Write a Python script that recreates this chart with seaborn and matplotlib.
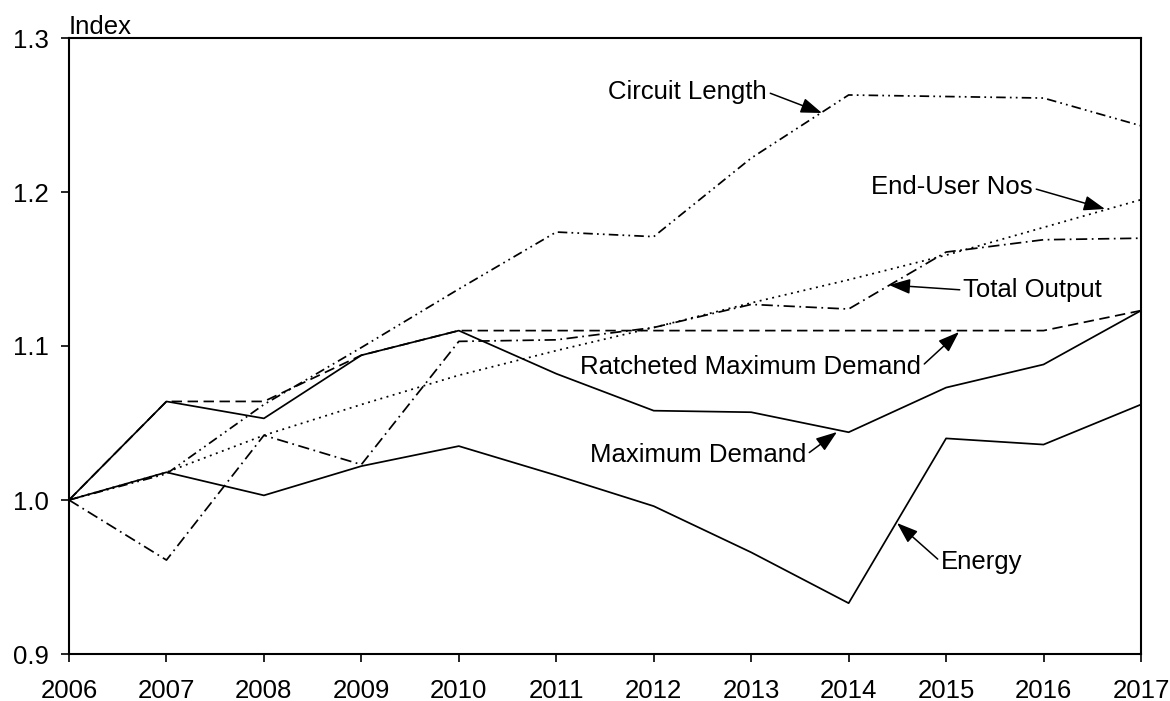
import matplotlib
matplotlib.use("Agg")
import matplotlib.pyplot as plt
import seaborn as sns
import numpy as np

# ---- data ----
years = [2006, 2007, 2008, 2009, 2010, 2011, 2012, 2013, 2014, 2015, 2016, 2017]
energy = [1.000, 1.018, 1.003, 1.022, 1.035, 1.016, 0.996, 0.966, 0.933, 1.040, 1.036, 1.062]
max_demand = [1.000, 1.064, 1.053, 1.094, 1.110, 1.082, 1.058, 1.057, 1.044, 1.073, 1.088, 1.123]
ratcheted = [1.000, 1.064, 1.064, 1.094, 1.110, 1.110, 1.110, 1.110, 1.110, 1.110, 1.110, 1.123]
circuit_length = [1.000, 1.017, 1.062, 1.099, 1.137, 1.174, 1.171, 1.222, 1.263, 1.262, 1.261, 1.243]
end_user = [1.000, 1.018, 1.042, 1.062, 1.081, 1.097, 1.112, 1.128, 1.143, 1.159, 1.177, 1.195]
total_output = [1.000, 0.961, 1.042, 1.023, 1.103, 1.104, 1.112, 1.127, 1.124, 1.161, 1.169, 1.170]
yticks = [0.9, 1.0, 1.1, 1.2, 1.3]
y_label = "Index"

sns.set_style("white")
plt.rcParams['font.family'] = ['Liberation Sans', 'DejaVu Sans']
plt.rcParams['text.color'] = 'black'
plt.rcParams['xtick.color'] = 'black'
plt.rcParams['ytick.color'] = 'black'
plt.rcParams['axes.labelcolor'] = 'black'
FS = 18.5

fig = plt.figure(figsize=(11.70, 7.01), dpi=100)
ax = fig.add_axes([69/1170, 1 - 654/701, (1141-69)/1170, (654-38)/701])

LW = 1.25
series = [
    (energy, '-'),
    (max_demand, '-'),
    (ratcheted, (0, (6, 3.2))),
    (circuit_length, (0, (5.5, 2.4, 1, 2.4, 1, 2.4))),
    (end_user, (0, (1.1, 2.6))),
    (total_output, (0, (6.5, 2.6, 1, 2.6))),
]
for vals, ls in series:
    sns.lineplot(x=years, y=vals, ax=ax, color='black', linewidth=LW,
                 linestyle=ls, legend=False, errorbar=None)

ax.set_xlim(2006, 2017)
ax.set_ylim(0.9, 1.3)
ax.set_xticks(years)
ax.set_xticklabels([str(y) for y in years])
ax.set_yticks(yticks)
ax.set_yticklabels([f"{v:.1f}" for v in yticks])
ax.set_xlabel("")
ax.set_ylabel("")

for s in ax.spines.values():
    s.set_visible(True)
    s.set_color('black')
    s.set_linewidth(1.5)

ax.tick_params(axis='both', which='major', direction='out', length=5.5,
               width=1.2, color='black', labelsize=FS, labelcolor='black',
               bottom=True, left=True)
ax.tick_params(axis='x', pad=12.5)
ax.tick_params(axis='y', pad=9)

ax.annotate(y_label, xy=(0, 1), xycoords='axes fraction', xytext=(0, 3),
            textcoords='offset points', ha='left', va='baseline', fontsize=FS,
            color='black')


def px2d(px, py):
    return (2006 + (px - 69) / ((1141 - 69) / 11.0), 1.3 - (py - 38) / 1540.0)


arrow = dict(arrowstyle='-|>,head_length=0.7,head_width=0.25', color='black',
             lw=1.1, shrinkA=0, shrinkB=0)

annots = [
    ("Circuit Length", (767, 92), (822, 113), 'right', (1, 0.5)),
    ("End-User Nos", (1033, 187), (1105, 209), 'right', (1, 0.45)),
    ("Total Output", (963, 290), (889, 285), 'left', (0, 0.5)),
    ("Ratcheted Maximum Demand", (921, 367), (959, 332), 'right', (1, 0.5)),
    ("Maximum Demand", (806, 455), (837, 432), 'right', (1, 0.5)),
    ("Energy", (941, 562), (897, 523), 'left', (0, 0.5)),
]
for txt, tpos, hpos, ha, rp in annots:
    ap = dict(arrow)
    ap['relpos'] = rp
    ax.annotate(txt, xy=px2d(*hpos), xytext=px2d(*tpos), xycoords='data',
                textcoords='data', ha=ha, va='center', fontsize=FS,
                color='black', arrowprops=ap, annotation_clip=False)

fig.savefig("out.png", dpi=100)
